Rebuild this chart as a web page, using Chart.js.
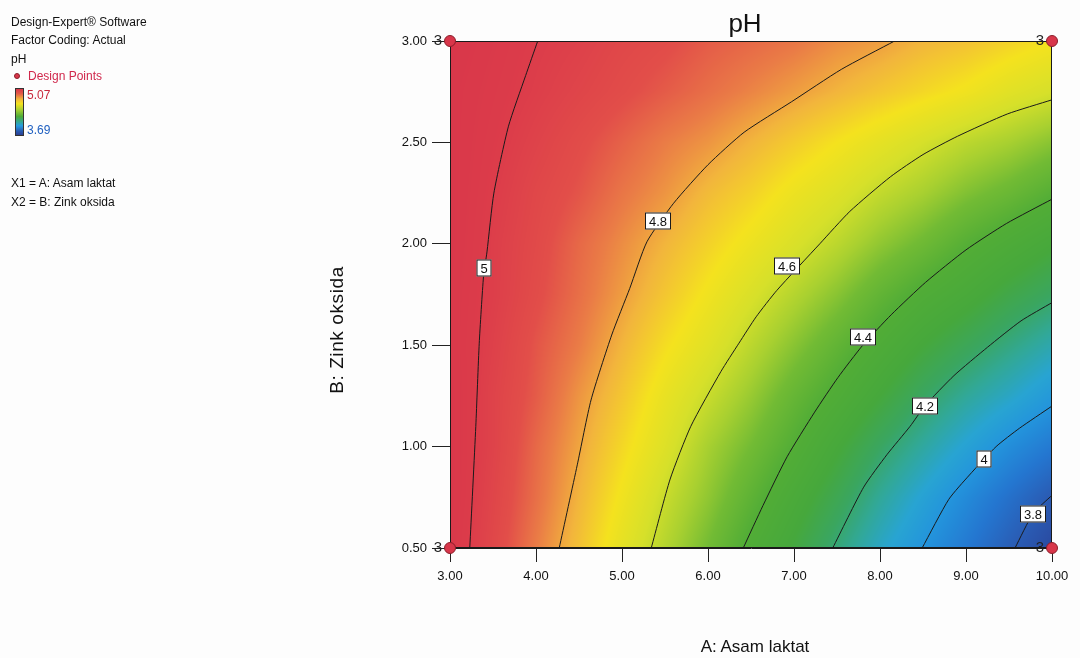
<!DOCTYPE html>
<html>
<head>
<meta charset="utf-8">
<title>pH contour</title>
<script src="https://cdn.jsdelivr.net/npm/chart.js@4.4.1/dist/chart.umd.min.js"></script>
<style>
  html, body { margin: 0; padding: 0; background: #fdfdfd; }
  #wrap { position: relative; width: 1080px; height: 658px; overflow: hidden; font-family: "Liberation Sans", Arial, sans-serif; color: #111; }
  #wrap canvas { position: absolute; left: 0; top: 0; }
  .t { position: absolute; font-size: 12px; line-height: 14px; white-space: nowrap; }
  #bar { position: absolute; left: 15px; top: 88px; width: 7px; height: 46px; border: 1px solid #333;
         background: linear-gradient(to bottom, #d8364a 0%, #e35a48 10%, #f2b53c 22%, #f4e21e 32%, #a8d030 45%, #4cab38 60%, #33a898 72%, #259ce0 80%, #2858b0 92%, #2a3f90 100%); }
  #dot { position: absolute; left: 14px; top: 73px; width: 6px; height: 6px; border-radius: 50%; background: #d8364a; border: 1px solid #8a1e2a; box-sizing: border-box; }
  #title { position: absolute; left: 700px; width: 90px; top: 8px; text-align: center; font-size: 26px; }
  #xtitle { position: absolute; left: 655px; width: 200px; top: 638px; text-align: center; font-size: 17px; line-height: 17px; }
  #ytitle { position: absolute; left: 237px; width: 200px; top: 320px; text-align: center; font-size: 19px; line-height: 20px; transform: rotate(-90deg); letter-spacing: 0.6px; }
</style>
</head>
<body>
<div id="wrap">
  <canvas id="phChart" width="1080" height="658"></canvas>
  <div class="t" style="left:11px; top:15px;">Design-Expert® Software</div>
  <div class="t" style="left:11px; top:33px;">Factor Coding: Actual</div>
  <div class="t" style="left:11px; top:52px;">pH</div>
  <div id="dot"></div>
  <div class="t" style="left:28px; top:69px; color:#d0284c;">Design Points</div>
  <div id="bar"></div>
  <div class="t" style="left:27px; top:88px; color:#c8283c;">5.07</div>
  <div class="t" style="left:27px; top:123px; color:#2060c0;">3.69</div>
  <div class="t" style="left:11px; top:176px;">X1 = A: Asam laktat</div>
  <div class="t" style="left:11px; top:195px;">X2 = B: Zink oksida</div>
  <div id="title">pH</div>
  <div id="xtitle">A: Asam laktat</div>
  <div id="ytitle">B: Zink oksida</div>
</div>
<script>
// grid of pH: columns = A (asam laktat), rows = B (zink oksida)
const gridA = [3, 3.5, 4, 4.5, 5, 5.5, 6, 6.5, 7, 7.5, 8, 8.5, 9, 9.5, 10];
const gridB = [0.5, 0.75, 1, 1.25, 1.5, 1.75, 2, 2.25, 2.5, 2.75, 3];
const phB050 = [5.04, 4.95, 4.85, 4.76, 4.66, 4.57, 4.48, 4.38, 4.29, 4.19, 4.09, 4.00, 3.91, 3.81, 3.72];
const phB075 = [5.05, 4.96, 4.87, 4.78, 4.69, 4.60, 4.52, 4.43, 4.34, 4.25, 4.15, 4.06, 3.97, 3.88, 3.79];
const phB100 = [5.05, 4.97, 4.88, 4.80, 4.72, 4.64, 4.55, 4.48, 4.40, 4.31, 4.22, 4.14, 4.06, 3.98, 3.91];
const phB125 = [5.05, 4.97, 4.90, 4.82, 4.75, 4.67, 4.60, 4.53, 4.45, 4.38, 4.30, 4.22, 4.15, 4.09, 4.02];
const phB150 = [5.04, 4.98, 4.91, 4.85, 4.78, 4.71, 4.65, 4.58, 4.51, 4.44, 4.37, 4.30, 4.24, 4.18, 4.12];
const phB175 = [5.04, 4.99, 4.93, 4.87, 4.81, 4.75, 4.69, 4.63, 4.57, 4.51, 4.44, 4.38, 4.33, 4.27, 4.22];
const phB200 = [5.05, 4.99, 4.94, 4.88, 4.83, 4.78, 4.73, 4.68, 4.63, 4.58, 4.52, 4.47, 4.41, 4.36, 4.31];
const phB225 = [5.05, 5.00, 4.95, 4.91, 4.86, 4.82, 4.77, 4.73, 4.68, 4.64, 4.59, 4.55, 4.50, 4.46, 4.41];
const phB250 = [5.05, 5.01, 4.97, 4.93, 4.89, 4.85, 4.82, 4.78, 4.74, 4.70, 4.66, 4.62, 4.58, 4.55, 4.51];
const phB275 = [5.05, 5.02, 4.99, 4.96, 4.93, 4.90, 4.87, 4.84, 4.81, 4.78, 4.75, 4.72, 4.69, 4.65, 4.62];
const phB300 = [5.06, 5.03, 5.00, 4.98, 4.95, 4.93, 4.90, 4.88, 4.86, 4.83, 4.81, 4.78, 4.76, 4.73, 4.70];
const phRows = [phB050, phB075, phB100, phB125, phB150, phB175, phB200, phB225, phB250, phB275, phB300];

// contour lines [A, B]
const c50 = [[4.02, 3.0], [3.88, 2.83], [3.68, 2.58], [3.51, 2.25], [3.43, 1.96], [3.39, 1.84], [3.34, 1.51], [3.30, 1.10], [3.23, 0.5]];
const c48 = [[8.17, 3.0], [7.55, 2.86], [6.97, 2.70], [6.42, 2.55], [6.0, 2.39], [5.60, 2.20], [5.29, 2.01], [5.09, 1.78], [4.88, 1.55], [4.64, 1.23], [4.48, 0.91], [4.27, 0.5]];
const c46 = [[10, 2.71], [9.48, 2.64], [8.90, 2.53], [8.50, 2.44], [8.12, 2.33], [7.65, 2.16], [7.30, 2.00], [6.80, 1.77], [6.56, 1.64], [6.36, 1.51], [6.15, 1.37], [5.80, 1.10], [5.56, 0.84], [5.34, 0.5]];
const c44 = [[10, 2.22], [9.47, 2.10], [9.0, 1.97], [8.53, 1.81], [8.13, 1.65], [7.80, 1.50], [7.51, 1.34], [7.24, 1.17], [6.92, 0.95], [6.64, 0.71], [6.41, 0.5]];
const c42 = [[10, 1.71], [9.64, 1.62], [9.25, 1.49], [8.86, 1.35], [8.52, 1.20], [8.35, 1.10], [8.08, 0.96], [7.81, 0.80], [7.45, 0.5]];
const c40 = [[10, 1.20], [9.62, 1.09], [9.35, 1.0], [9.04, 0.86], [8.80, 0.74], [8.49, 0.5]];
const c38 = [[10, 0.76], [9.78, 0.67], [9.57, 0.5]];
const contours = [c50, c48, c46, c44, c42, c40, c38];

// contour labels
const levelText = ['5', '4.8', '4.6', '4.4', '4.2', '4', '3.8'];
const levelA = [3.39, 5.42, 6.92, 7.80, 8.52, 9.21, 9.78];
const levelB = [1.88, 2.11, 1.89, 1.54, 1.20, 0.94, 0.67];

// design points
const designA = [3, 3, 10, 10];
const designB = [0.5, 3, 3, 0.5];
const designReps = ['3', '3', '3', '3'];

// colour ramp (pH -> colour)
const rampVal = [3.69, 3.80, 3.90, 4.00, 4.07, 4.15, 4.22, 4.30, 4.40, 4.48, 4.55, 4.62, 4.70, 4.78, 4.85, 4.92, 5.00, 5.07];
const rampHex = ['#2a4298', '#2a5cb4', '#2476d0', '#2394dc', '#28a4d2', '#31a898', '#3aa660', '#46a83c', '#52ad36', '#72bb34',
                 '#a8d030', '#d6e02a', '#f4e21e', '#f2b53c', '#ea7c46', '#e24e49', '#dc3c4a', '#d8364a'];
const rampRgb = rampHex.map(h => [parseInt(h.slice(1, 3), 16), parseInt(h.slice(3, 5), 16), parseInt(h.slice(5, 7), 16)]);

function colourFor(v) {
    if (v <= rampVal[0]) return rampRgb[0];
    for (let k = 1; k < rampVal.length; k++) {
        if (v <= rampVal[k]) {
            const t = (v - rampVal[k - 1]) / (rampVal[k] - rampVal[k - 1]);
            const c0 = rampRgb[k - 1], c1 = rampRgb[k];
            return [c0[0] + (c1[0] - c0[0]) * t, c0[1] + (c1[1] - c0[1]) * t, c0[2] + (c1[2] - c0[2]) * t];
        }
    }
    return rampRgb[rampRgb.length - 1];
}

function phAt(a, b) {
    const stepA = gridA[1] - gridA[0], stepB = gridB[1] - gridB[0];
    let fi = (a - gridA[0]) / stepA, fj = (b - gridB[0]) / stepB;
    fi = Math.max(0, Math.min(gridA.length - 1.0001, fi));
    fj = Math.max(0, Math.min(gridB.length - 1.0001, fj));
    const i = Math.floor(fi), j = Math.floor(fj);
    const u = fi - i, w = fj - j;
    const r0 = phRows[j], r1 = phRows[j + 1];
    const lo = r0[i] + (r0[i + 1] - r0[i]) * u;
    const hi = r1[i] + (r1[i + 1] - r1[i]) * u;
    return lo + (hi - lo) * w;
}

// heat map under the lines, plus the frame round the plot
const heatPlugin = {
    id: 'heat',
    beforeDatasetsDraw(chart) {
        const { ctx, chartArea: area, scales: { x, y } } = chart;
        const left = Math.round(area.left), top = Math.round(area.top);
        const w = Math.round(area.right) - left, h = Math.round(area.bottom) - top;
        const img = ctx.createImageData(w, h);
        for (let j = 0; j < h; j++) {
            const b = y.getValueForPixel(top + j + 0.5);
            for (let i = 0; i < w; i++) {
                const a = x.getValueForPixel(left + i + 0.5);
                const c = colourFor(phAt(a, b));
                const p = (j * w + i) * 4;
                img.data[p] = c[0];
                img.data[p + 1] = c[1];
                img.data[p + 2] = c[2];
                img.data[p + 3] = 255;
            }
        }
        ctx.putImageData(img, left, top);
        ctx.save();
        ctx.strokeStyle = '#1a1a1a';
        ctx.lineWidth = 1;
        ctx.strokeRect(left + 0.5, top + 0.5, w - 1, h - 1);
        ctx.restore();
    },
    afterDatasetsDraw(chart) {
        const { ctx, scales: { x, y } } = chart;
        ctx.save();
        // level boxes
        ctx.font = '13px "Liberation Sans", Arial, sans-serif';
        ctx.textAlign = 'center';
        ctx.textBaseline = 'middle';
        levelText.forEach((txt, k) => {
            const px = Math.round(x.getPixelForValue(levelA[k]));
            const py = Math.round(y.getPixelForValue(levelB[k]));
            const bw = Math.round(ctx.measureText(txt).width) + 8, bh = 17;
            ctx.fillStyle = '#ffffff';
            ctx.fillRect(px - bw / 2, py - bh / 2, bw, bh);
            ctx.strokeStyle = '#1a1a1a';
            ctx.lineWidth = 1;
            ctx.strokeRect(px - bw / 2 + 0.5, py - bh / 2 + 0.5, bw - 1, bh - 1);
            ctx.fillStyle = '#111';
            ctx.fillText(txt, px, py + 1);
        });
        // replicate counts beside the design points
        ctx.font = '15px "Liberation Sans", Arial, sans-serif';
        designReps.forEach((txt, k) => {
            const px = x.getPixelForValue(designA[k]);
            const py = y.getPixelForValue(designB[k]);
            ctx.fillStyle = '#222';
            ctx.fillText(txt, px - 12, py);
        });
        ctx.restore();
    }
};

const datasets = [{
    label: 'Design Points',
    data: designA.map((a, k) => ({ x: a, y: designB[k] })),
    pointRadius: 5.5,
    pointBackgroundColor: '#d8364a',
    pointBorderColor: '#8a1e2a',
    pointBorderWidth: 1,
    showLine: false,
    clip: false
}];
contours.forEach((c, k) => {
    datasets.push({
        label: levelText[k],
        data: c.map(p => ({ x: p[0], y: p[1] })),
        showLine: true,
        pointRadius: 0,
        borderColor: '#1a1a1a',
        borderWidth: 1,
        tension: 0.2
    });
});

const ctx = document.getElementById('phChart').getContext('2d');
new Chart(ctx, {
    type: 'scatter',
    data: { datasets: datasets },
    plugins: [heatPlugin],
    options: {
        responsive: false,
        animation: false,
        devicePixelRatio: 1,
        layout: { padding: { top: 41, right: 28, left: 0, bottom: 0 } },
        plugins: { legend: { display: false }, tooltip: { enabled: false } },
        scales: {
            x: {
                type: 'linear', min: 3, max: 10,
                afterFit(scale) { scale.height = 110; },
                ticks: { stepSize: 1, padding: 7, color: '#111', font: { family: 'Liberation Sans', size: 13 },
                         callback: v => Number(v).toFixed(2), maxRotation: 0 },
                grid: { drawOnChartArea: false, tickLength: 14, color: '#222' },
                border: { color: '#1a1a1a' }
            },
            y: {
                type: 'linear', min: 0.5, max: 3,
                afterFit(scale) { scale.width = 450; },
                ticks: { stepSize: 0.5, padding: 5, color: '#111', font: { family: 'Liberation Sans', size: 13 },
                         callback: v => Number(v).toFixed(2) },
                grid: { drawOnChartArea: false, tickLength: 18, color: '#222' },
                border: { color: '#1a1a1a' }
            }
        }
    }
});
</script>
</body>
</html>
